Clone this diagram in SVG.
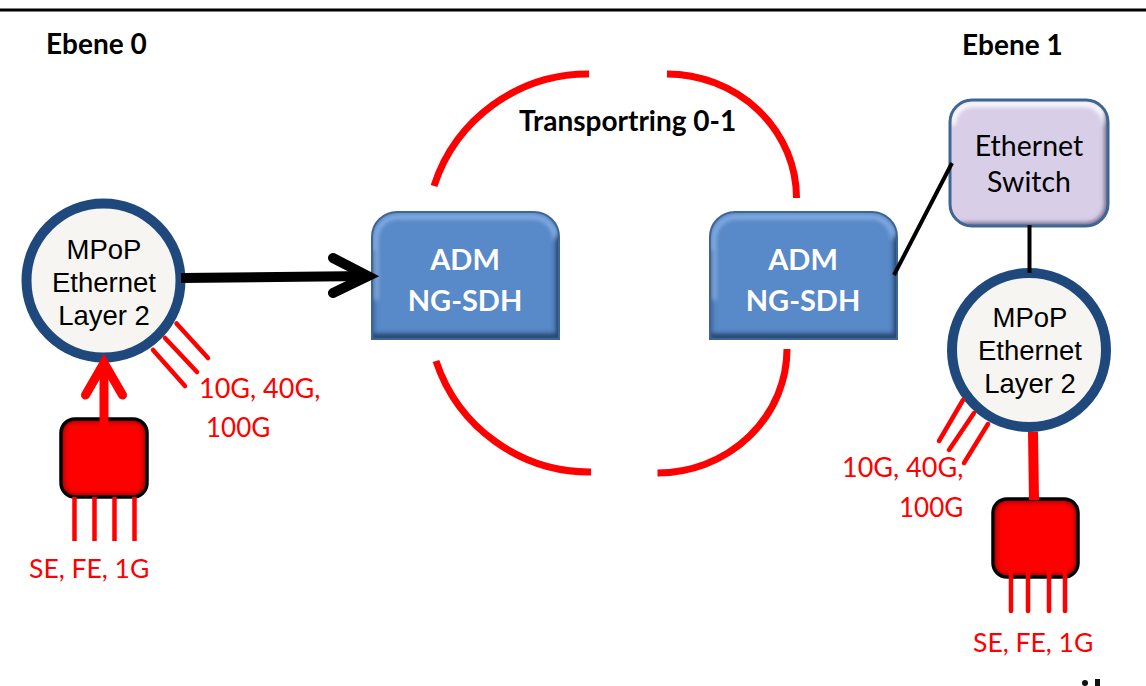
<svg xmlns="http://www.w3.org/2000/svg" width="1146" height="686" viewBox="0 0 1146 686">
<style>
.t{font-family:"Liberation Sans",Arial,sans-serif;font-size:27.500px;fill:#000;text-anchor:middle}
.c{font-family:Lato,"Open Sans",sans-serif;font-size:27px}
.b{font-weight:700;fill:#000;font-size:28px}
.r{fill:#ff0000;text-anchor:start}
.s{font-size:26.500px}
.h{font-size:26px}
.w{font-weight:700;fill:#fff;text-anchor:middle;font-size:29px}
.k{fill:#000;text-anchor:middle;font-size:28.500px}
.ring{fill:none;stroke:#ff0000;stroke-width:7}
.thin{stroke:#ff0000;stroke-width:4.500;fill:none}
.blk{stroke:#000;stroke-width:4;fill:none}
.circ{fill:#f6f5f1;stroke:#1f497d;stroke-width:10}
.adm{fill:#5889c8}
.edge{fill:none;stroke:#3f6592;stroke-width:2}
.redb{fill:#ff0000}
.redo{fill:none;stroke:#000;stroke-width:3.500}
.sw{fill:#d8cee7}
</style>
<defs>
<filter id="blur" x="-20%" y="-20%" width="140%" height="140%"><feGaussianBlur stdDeviation="2"/></filter>
<clipPath id="ca1"><path d="M372 339V237a25 25 0 0 1 25-25H534a25 25 0 0 1 25 25V339Z"/></clipPath>
<clipPath id="ca2"><path d="M710 339V237a25 25 0 0 1 25-25H872a25 25 0 0 1 25 25V339Z"/></clipPath>
<clipPath id="cs"><rect x="950" y="100" width="158" height="126" rx="22"/></clipPath>
<clipPath id="cr1"><rect x="61" y="419" width="86" height="78" rx="14"/></clipPath>
<clipPath id="cr2"><rect x="993" y="499" width="85" height="78" rx="14"/></clipPath>
</defs>
<rect width="1146" height="686" fill="#fff"/>
<line x1="0" y1="10" x2="1146" y2="10" stroke="#000" stroke-width="3"/>

<g id="adm-left">
<path class="adm" d="M372 339V237a25 25 0 0 1 25-25H534a25 25 0 0 1 25 25V339Z"/>
<g clip-path="url(#ca1)" fill="none" filter="url(#blur)">
<path d="M376 300V239a22 22 0 0 1 22-22H533a22 22 0 0 1 22 22" stroke="#8db4e6" stroke-width="4"/>
<path d="M372 339V250" stroke="#3a5f92" stroke-width="5"/>
<path d="M372 337H559V235" stroke="#27466f" stroke-width="7"/>
</g>
<path class="edge" d="M372 339V237a25 25 0 0 1 25-25H534a25 25 0 0 1 25 25V339Z"/>
<text class="c w" x="465" y="270">ADM</text>
<text class="c w" x="465" y="311">NG-SDH</text>
</g>

<g id="adm-right">
<path class="adm" d="M710 339V237a25 25 0 0 1 25-25H872a25 25 0 0 1 25 25V339Z"/>
<g clip-path="url(#ca2)" fill="none" filter="url(#blur)">
<path d="M714 300V239a22 22 0 0 1 22-22H871a22 22 0 0 1 22 22" stroke="#8db4e6" stroke-width="4"/>
<path d="M710 339V250" stroke="#3a5f92" stroke-width="5"/>
<path d="M710 337H897V235" stroke="#27466f" stroke-width="7"/>
</g>
<path class="edge" d="M710 339V237a25 25 0 0 1 25-25H872a25 25 0 0 1 25 25V339Z"/>
<text class="c w" x="803" y="270">ADM</text>
<text class="c w" x="803" y="311">NG-SDH</text>
</g>

<g id="switch">
<rect class="sw" x="950" y="100" width="158" height="126" rx="22"/>
<g clip-path="url(#cs)" fill="none" filter="url(#blur)">
<path d="M953 125V124a20 20 0 0 1 20-20H1085a20 20 0 0 1 20 20" stroke="#fff" stroke-width="5"/>
<path d="M950 226H1086a22 22 0 0 0 22-22V110" stroke="#6f6a8a" stroke-width="7"/>
</g>
<rect class="edge" x="950" y="100" width="158" height="126" rx="22" style="stroke-width:3"/>
<text class="c k" x="1029" y="156">Ethernet</text>
<text class="c k" x="1029" y="192">Switch</text>
</g>

<g id="mpop-left">
<circle class="circ" cx="103.500" cy="280.500" r="77"/>
<text class="t" x="104" y="259">MPoP</text>
<text class="t" x="104" y="292">Ethernet</text>
<text class="t" x="104" y="325">Layer 2</text>
</g>

<g id="mpop-right">
<circle class="circ" cx="1029" cy="350" r="77"/>
<text class="t" x="1030" y="327">MPoP</text>
<text class="t" x="1030" y="360">Ethernet</text>
<text class="t" x="1030" y="393">Layer 2</text>
</g>

<g id="access-left">
<rect class="redb" x="61" y="419" width="86" height="78" rx="14"/>
<rect clip-path="url(#cr1)" x="61" y="419" width="86" height="78" rx="14" fill="none" stroke="#a80000" stroke-width="7" filter="url(#blur)"/>
<rect class="redo" x="61" y="419" width="86" height="78" rx="14"/>
</g>
<g id="access-right">
<rect class="redb" x="993" y="499" width="85" height="78" rx="14"/>
<rect clip-path="url(#cr2)" x="993" y="499" width="85" height="78" rx="14" fill="none" stroke="#a80000" stroke-width="7" filter="url(#blur)"/>
<rect class="redo" x="993" y="499" width="85" height="78" rx="14"/>
</g>

<g id="connectors">
<path class="ring" d="M434 186A162 162 0 0 1 589 74"/>
<path class="ring" d="M667 74A130 124 0 0 1 796.500 198"/>
<path class="ring" d="M436 361A162 162 0 0 0 591 472"/>
<path class="ring" d="M787 349A130 124 0 0 1 657.500 473"/>
<path d="M181 278L368 276" stroke="#000" stroke-width="10" fill="none"/>
<path d="M333 258L368 276L333 293" stroke="#000" stroke-width="10" fill="none" stroke-linecap="round"/>
<line class="blk" x1="894" y1="275" x2="952" y2="163"/>
<line class="blk" x1="1029.500" y1="225" x2="1029.500" y2="273"/>
<path class="thin" stroke-linecap="round" d="M176.500 323.500L208 358M165 338L197 372M153 350L185 386"/>
<path class="thin" stroke-linecap="round" d="M963 400L939 441M974 413L949 450M988 424L964 463"/>
<path d="M1033 432L1034 500" stroke="#ff0000" stroke-width="10" fill="none"/>
<path class="thin" stroke-width="5" d="M74.500 497V541M94.500 497V541M114.500 497V541M134.500 497V541"/>
<path class="thin" stroke-linecap="round" d="M1011 562V611M1028 562V611M1049 562V611M1065 562V611"/>
<path d="M104 457V362" stroke="#ff0000" stroke-width="9" fill="none"/>
<path d="M85.500 395L104 363L122.500 395" stroke="#ff0000" stroke-width="9" fill="none" stroke-linecap="round"/>
</g>

<circle cx="1085" cy="683" r="3" fill="#111"/>
<rect x="1095" y="679" width="5" height="7" fill="#111"/>

<text class="c b" x="46" y="54">Ebene 0</text>
<text class="c b" x="962" y="55">Ebene 1</text>
<text class="c b" x="519" y="131">Transportring 0-1</text>
<text class="c r" x="199" y="398">10G, 40G,</text>
<text class="c r h" x="206" y="437">100G</text>
<text class="c r s" x="29" y="578">SE, FE, 1G</text>
<text class="c r" x="842" y="477">10G, 40G,</text>
<text class="c r h" x="899" y="517">100G</text>
<text class="c r s" x="973" y="652">SE, FE, 1G</text>
</svg>
